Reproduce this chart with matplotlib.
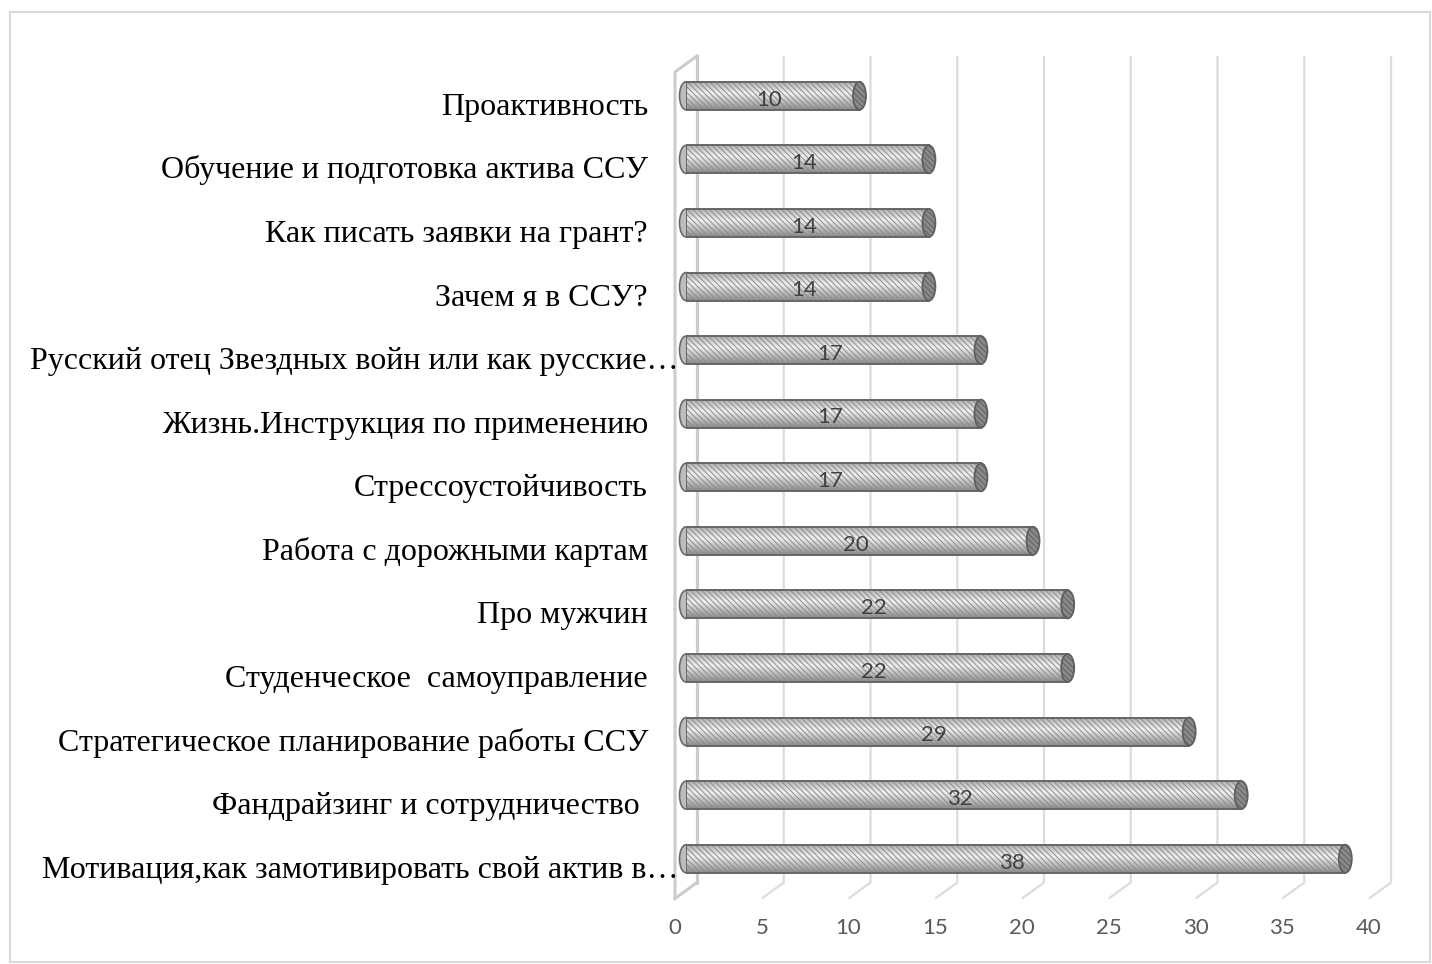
import matplotlib
matplotlib.use("Agg")
import matplotlib.pyplot as plt
import numpy as np
from matplotlib.patches import Ellipse, Rectangle

categories = [
    "Проактивность",
    "Обучение и подготовка актива ССУ",
    "Как писать заявки на грант?",
    "Зачем я в ССУ?",
    "Русский отец Звездных войн или как русские…",
    "Жизнь.Инструкция по применению",
    "Стрессоустойчивость",
    "Работа с дорожными картам",
    "Про мужчин",
    "Студенческое  самоуправление",
    "Стратегическое планирование работы ССУ",
    "Фандрайзинг и сотрудничество ",
    "Мотивация,как замотивировать свой актив в…",
]
values = [10, 14, 14, 14, 17, 17, 17, 20, 22, 22, 29, 32, 38]
xticks = [0, 5, 10, 15, 20, 25, 30, 35, 40]

W, H = 1432, 964
fig = plt.figure(figsize=(W / 100, H / 100), dpi=100)
plt.rcParams['hatch.linewidth'] = 0.7

# axes at the middle depth of the 3D box
x0_px, x1_px = 686, 1380
y0_px, y1_px = 64, 890.5
ax = fig.add_axes([x0_px / W, 1 - y1_px / H, (x1_px - x0_px) / W, (y1_px - y0_px) / H])
ax.set_xlim(0, 40)
n = len(categories)
ax.set_ylim(n - 0.5, -0.5)
ax.axis('off')

ppu_x = (x1_px - x0_px) / 40.0
ppu_y = (y1_px - y0_px) / n
dx = 11 / ppu_x   # depth offset in x units
dy = 8 / ppu_y    # depth offset in y units

grid_c = '#dcdcdc'
wall_c = '#cccccc'
for v in xticks:
    ax.plot([v + dx, v + dx, v - dx], [-0.5 - dy, n - 0.5 - dy, n - 0.5 + dy],
            color=grid_c, lw=1.6, clip_on=False, zorder=1, solid_capstyle='butt')
ax.plot([-dx, -dx, dx], [n - 0.5 + dy, -0.5 + dy, -0.5 - dy], color=wall_c, lw=2.2,
        clip_on=False, zorder=1)
ax.plot([-dx, dx], [n - 0.5 + dy, n - 0.5 - dy], color=wall_c, lw=2.2, clip_on=False, zorder=1)
ax.plot([dx, dx], [-0.5 - dy, n - 0.5 - dy], color=wall_c, lw=2.2, clip_on=False, zorder=1)

bh = 0.44
capw = 13 / ppu_x
grad = np.concatenate([np.linspace(0.70, 0.93, 8), np.linspace(0.93, 0.55, 12)])[:, None]

for i, v in enumerate(values):
    ax.add_patch(Ellipse((0, i), capw, bh, facecolor='#bdbdbd', edgecolor='#6a6a6a',
                         lw=1.2, zorder=2, clip_on=False))
    im = ax.imshow(grad, extent=(0, v, i + bh / 2, i - bh / 2), aspect='auto',
                   cmap='gray', vmin=0, vmax=1, zorder=3, interpolation='bilinear')
    body = ax.barh(i, v, height=bh, left=0, facecolor='none', edgecolor='none', zorder=3)
    im.set_clip_path(body[0])
    ax.barh(i, v, height=bh, left=0, facecolor='none', edgecolor='#8c8c8c',
            hatch='\\\\\\\\\\\\', lw=0, zorder=4)
    ax.barh(i, v, height=bh, left=0, facecolor='none', edgecolor='#666666',
            lw=1.4, zorder=5)
    ax.add_patch(Ellipse((v, i), capw, bh, facecolor='#8a8a8a', edgecolor='#5f5f5f',
                         lw=1.3, zorder=6, hatch='\\\\\\\\\\\\', clip_on=False))
    ax.text(v / 2 - 0.2, i + 0.06, str(v), ha='center', va='center', fontsize=16,
            family=['Lato', 'DejaVu Sans'], color='#404040', zorder=7)

for i, c in enumerate(categories):
    xr = 678 if c.endswith('…') else 648
    xd = (xr - x0_px) / ppu_x
    ax.text(xd, i + 0.30, c, ha='right', va='baseline', fontsize=23,
            family=['Liberation Serif', 'DejaVu Serif'], color='black', clip_on=False)

for v in xticks:
    yd = (928 - y0_px) / ppu_y - 0.5
    ax.text(v - dx, yd, str(v), ha='center', va='center', fontsize=16,
            family=['Lato', 'DejaVu Sans'], color='#595959', clip_on=False)

fig.patches.append(Rectangle((10 / W, 1 - 962 / H), 1420 / W, 950 / H, transform=fig.transFigure,
                             facecolor='none', edgecolor='#d9d9d9', lw=1.5))

fig.savefig('out.png', dpi=100)
